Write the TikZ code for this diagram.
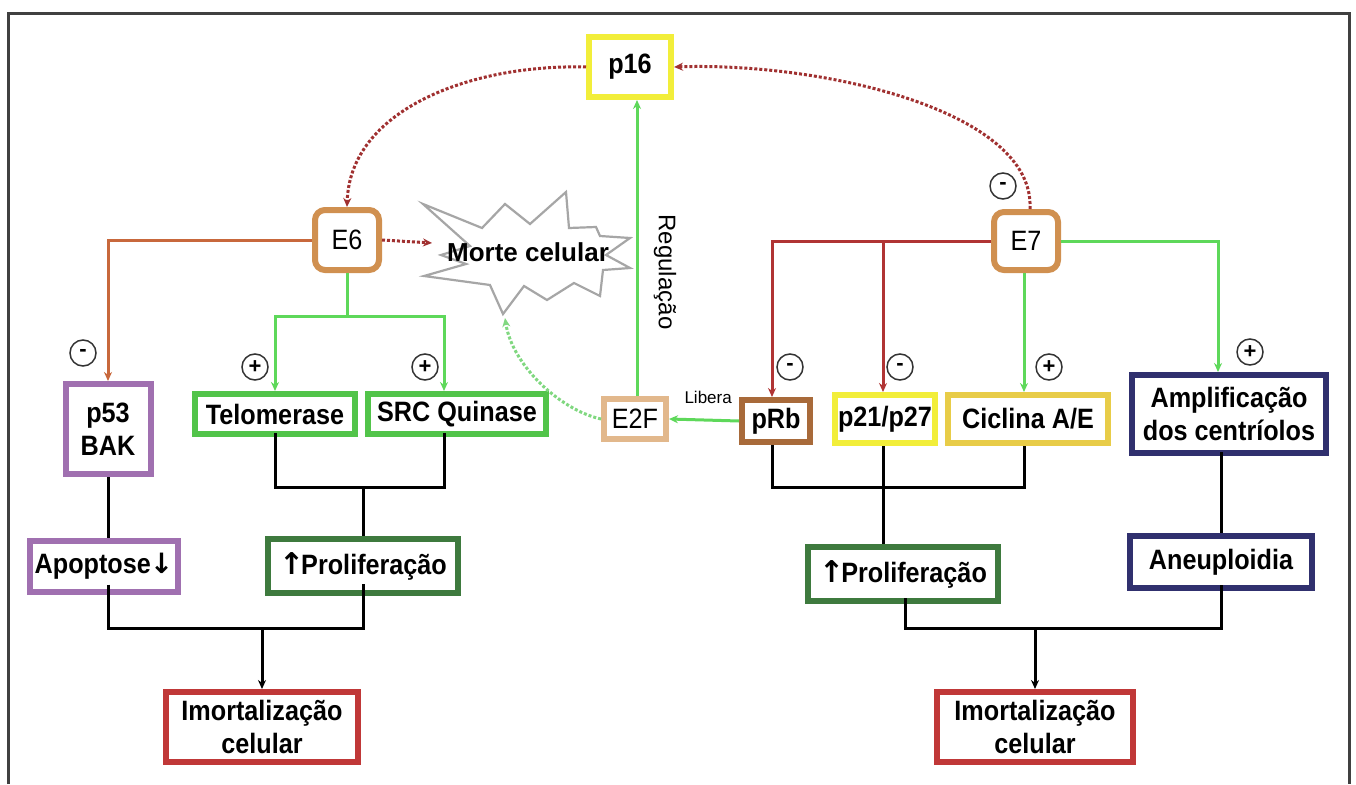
\documentclass[tikz,border=0pt]{standalone}
\usepackage{fontspec}
\setmainfont{Liberation Sans}
\newfontfamily\nar{Liberation Sans}[FakeStretch=0.9]
\newfontfamily\arrowfont{DejaVu Sans}
\usetikzlibrary{arrows.meta}
\definecolor{cYel}{HTML}{F2EE3A}
\definecolor{cTan}{HTML}{D09050}
\definecolor{cPur}{HTML}{A070B0}
\definecolor{cGrn}{HTML}{52C44A}
\definecolor{cDGr}{HTML}{3E7A3E}
\definecolor{cRed}{HTML}{C03838}
\definecolor{cE2F}{HTML}{E2B88C}
\definecolor{cBrn}{HTML}{A86A3A}
\definecolor{cGld}{HTML}{E8CC48}
\definecolor{cNav}{HTML}{30306E}
\definecolor{lOra}{HTML}{C8683C}
\definecolor{lRed}{HTML}{B03434}
\definecolor{lGrn}{HTML}{5ED85A}
\definecolor{dRed}{HTML}{A03030}
\definecolor{dGrn}{HTML}{80D880}
\tikzset{
  box/.style={draw=#1, line width=6pt, fill=white, inner sep=0pt, align=center,
    font=\nar\bfseries\fontsize{28}{33}\selectfont, text=black},
  rbox/.style={box=#1, rounded corners=10pt},
  tip/.style={-{Stealth[length=9pt,width=8pt]}},
  gline/.style={draw=lGrn, line width=3pt},
  rline/.style={draw=lRed, line width=3pt},
  oline/.style={draw=lOra, line width=3pt},
  bline/.style={draw=black, line width=3pt},
  dotr/.style={draw=dRed, line width=3pt, dotted},
  dotg/.style={draw=dGrn, line width=3pt, dotted},
  sign/.style={draw=black!80, line width=1.5pt, circle, minimum size=26pt, inner sep=0pt,
    font=\bfseries\fontsize{22}{22}\selectfont}
}
\begin{document}
\begin{tikzpicture}[x=1pt,y=-1pt]
\useasboundingbox (0,0) rectangle (1356,784);
\fill[white] (0,0) rectangle (1356,784);
\draw[line width=3pt, black!75] (8,784) -- (8,14) -- (1349,14) -- (1349,784);

% starburst
\draw[draw=gray!70, line width=2.2pt, line join=miter]
 (423,204) -- (482,228) -- (505,204) -- (530,224) -- (566,192) -- (569,228)
 -- (596,227) -- (600,236) -- (630,238) -- (606,255) -- (630,268) -- (603,270)
 -- (600,296) -- (574,283) -- (547,300) -- (524,286) -- (503,314) -- (490,285)
 -- (424,276) -- (466,264) -- (441,255) -- (470,246) -- cycle;
\node[font=\bfseries\fontsize{26}{28}\selectfont] (MC) at (528,252) {Morte celular};
\coordinate (MCl) at (432,243);
\coordinate (MCb) at (505,318);

% nodes
\node[box=cYel, minimum width=82pt, minimum height=60pt] (p16) at (630,67) {p16};
\node[rbox=cTan, minimum width=64pt, minimum height=60pt, font=\nar\fontsize{28}{30}\selectfont] (E6) at (347,240) {E6};
\node[rbox=cTan, minimum width=64pt, minimum height=58pt, font=\nar\fontsize{28}{30}\selectfont] (E7) at (1026,241) {E7};
\node[box=cPur, minimum width=85pt, minimum height=90pt] (p53) at (108,429) {p53\\BAK};
\node[box=cGrn, minimum width=160pt, minimum height=40pt] (Telo) at (275,414) {Telomerase};
\node[box=cGrn, minimum width=178pt, minimum height=40pt] (SRC) at (457,414) {SRC Quinase};
\node[box=cE2F, minimum width=62pt, minimum height=40pt, font=\nar\fontsize{28}{30}\selectfont] (E2F) at (635,419) {E2F};
\node[anchor=west, font=\fontsize{17}{18}\selectfont] (Lib) at (681,397) {Libera};
\node[box=cBrn, minimum width=68pt, minimum height=42pt] (pRb) at (776,421) {pRb};
\node[box=cYel, minimum width=100pt, minimum height=48pt] (p21) at (885,419) {p21/p27};
\node[box=cGld, minimum width=160pt, minimum height=48pt] (Cic) at (1028,419) {Ciclina A/E};
\node[box=cNav, minimum width=194pt, minimum height=78pt] (Amp) at (1229,414) {Amplificação\\dos centríolos};
\node[box=cPur, minimum width=148pt, minimum height=51pt] (Apop) at (104,566) {Apoptose\hspace{-1pt}{\arrowfont\bfseries\fontsize{28}{28}\selectfont↓}};
\node[box=cDGr, minimum width=190pt, minimum height=54pt] (PL) at (363,566) {{\arrowfont\bfseries\fontsize{30}{30}\selectfont↑}\hspace{-3pt}Proliferação};
\node[box=cDGr, minimum width=190pt, minimum height=54pt] (PR) at (903,574) {{\arrowfont\bfseries\fontsize{30}{30}\selectfont↑}\hspace{-3pt}Proliferação};
\node[box=cNav, minimum width=182pt, minimum height=52pt] (Ane) at (1221,562) {Aneuploidia};
\node[box=cRed, minimum width=192pt, minimum height=70pt] (IL) at (262,727) {Imortalização\\celular};
\node[box=cRed, minimum width=196pt, minimum height=70pt] (IR) at (1035,727) {Imortalização\\celular};

\node[rotate=-90, font=\fontsize{24}{26}\selectfont] (Reg) at (665,272) {Regulação};

% helper coordinates
\coordinate (xSRC) at (444,0);
\coordinate (xP53) at (108,0);
\coordinate (xPRb) at (772,0);
\coordinate (xP21) at (883,0);
\coordinate (xAmp) at (1218,0);
\coordinate (xAne) at (1221,0);
\coordinate (xPR) at (905,0);
\coordinate (xE7) at (1024,0);
\coordinate (xE2F) at (637,0);
\coordinate (jE6) at (347,316);
\coordinate (jL1) at (363,487);
\coordinate (jL2) at (262,628);
\coordinate (jR1) at (900,487);
\coordinate (jR2) at (1035,628);

% E6 connectors
\draw[oline, tip] (E6.west) -| (p53.north);
\draw[gline] (E6.south) -- (jE6);
\draw[gline, tip] (jE6) -| (Telo.north);
\draw[gline, tip] (jE6) -| (SRC.north -| xSRC);
\draw[dotr, tip] (E6.east) -- (MCl);

% E7 connectors
\coordinate (rj) at (E7.west -| xP21);
\draw[rline, tip] (E7.west) -| (pRb.north -| xPRb);
\draw[rline, tip] (rj) -- (p21.north -| xP21);
\draw[gline, tip] (E7.south -| xE7) -- (Cic.north -| xE7);
\draw[gline, tip] (E7.east) -| (Amp.north -| xAmp);

% p16 loops
\draw[dotr, tip] (p16.west) .. controls (470,64) and (350,110) .. (E6.north);
\draw[dotr, tip] ([xshift=4pt]E7.north) .. controls (1035,110) and (820,62) .. (p16.east);
\draw[gline, tip] (E2F.north -| xE2F) -- (p16.south -| xE2F);
\draw[gline, tip] (pRb.west) -- (E2F.east);
\draw[dotg, tip] (E2F.west) .. controls (560,410) and (512,365) .. (MCb);

% lower left
\draw[bline] ([yshift=4pt]Telo.south) |- (jL1) -| ([yshift=4pt]SRC.south -| xSRC);
\draw[bline] (jL1) -- (PL.north);
\draw[bline] (p53.south) -- (Apop.north -| xP53);
\draw[bline] ([yshift=10pt]Apop.south -| xP53) |- (jL2) -| ([yshift=12pt]PL.south);
\draw[bline, tip] (jL2) -- (IL.north);

% lower right
\draw[bline] (pRb.south -| xPRb) |- (jR1) -| (Cic.south -| xE7);
\draw[bline] (p21.south -| xP21) -- (PR.north -| xP21);
\draw[bline] ([yshift=4pt]Amp.south -| xAne) -- (Ane.north);
\draw[bline] ([yshift=6pt]PR.south -| xPR) |- (jR2) -| ([yshift=6pt]Ane.south);
\draw[bline, tip] (jR2) -- (IR.north);

% signs
\node[sign] (s1) at (83,353) {-};
\node[sign] (s2) at (255,367) {+};
\node[sign] (s3) at (425,367) {+};
\node[sign] (s4) at (1003,186) {-};
\node[sign] (s5) at (790,367) {-};
\node[sign] (s6) at (900,367) {-};
\node[sign] (s7) at (1049,367) {+};
\node[sign] (s8) at (1250,352) {+};
\end{tikzpicture}
\end{document}
